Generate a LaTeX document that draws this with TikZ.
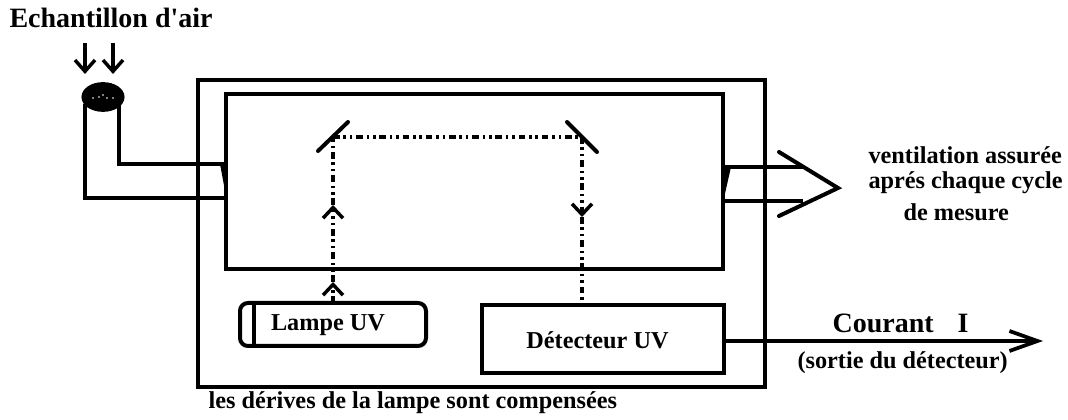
\documentclass[tikz,border=0pt]{standalone}
\usepackage{fontspec}
\newfontfamily\serif{Liberation Serif}
\usetikzlibrary{arrows.meta,shapes.geometric}

\begin{document}
\begin{tikzpicture}[x=0.75pt,y=-0.75pt, line width=2.3pt,
  txt/.style={font=\serif\bfseries\fontsize{18.2}{18.2}\selectfont, inner sep=0pt},
  txtbig/.style={font=\serif\bfseries\fontsize{21}{21}\selectfont, inner sep=0pt},
  boxe/.style={draw, rectangle, inner sep=0pt, outer sep=0pt},
  diag/.style={line width=3pt, line cap=round},
  beam/.style={line width=2.8pt, dash pattern=on 5pt off 2.8pt on 2pt off 2.8pt on 2pt off 2.8pt},
  chev/.style={-{Straight Barb[length=8pt,width=15pt,line width=2.6pt]}}]
\useasboundingbox (0,0) rectangle (1068,420);
% boites
\node[boxe, line width=3pt, minimum width=425.25pt, minimum height=230.25pt] (outer) at (481.5,234) {};
\node[boxe, minimum width=372.75pt, minimum height=131.25pt] (cell) at (474.5,181.5) {};
\node[boxe, line width=3pt, rounded corners=6pt, minimum width=139.5pt, minimum height=32.25pt] (lamp) at (333,324.5) {};
\node[boxe, minimum width=181.5pt, minimum height=51pt] (detector) at (603,339) {};
\draw (254,303) -- (254,346);
\node[txt] (lamptxt) at (328,325) {Lampe UV};
\node[txt] (dettxt) at (597.5,340) {Détecteur UV};
% entree d'air
\node[draw, ellipse, fill=black, minimum width=30pt, minimum height=20pt, inner sep=0pt, outer sep=0pt] (inlet) at (103,97) {};
\foreach \px/\py in {93/98, 99/97, 103/95, 107/98, 113/98} { \fill[white] (\px,\py) circle (0.7pt); }
\foreach \xx in {85,113} { \draw[-{Straight Barb[length=8.5pt,width=15pt,line width=2.6pt]}] (\xx,43) coordinate (top\xx) -- (\xx,74); }
\draw (85,104) -- (85,198) -- (226,198);
\draw (119,104) -- (119,164) -- (226,164);
\fill (220,164) -- (226,164) -- (226,196) -- cycle;
% sortie
\draw (723,167) -- (803,167);
\draw (723,201) -- (803,201);
\fill (723,167) -- (731,167) -- (724,198) -- cycle;
\coordinate (tip) at (838,188);
\draw[diag] (779,152) -- (tip) -- (779,216);
% faisceau
\coordinate (mirA) at (333,137);
\coordinate (mirB) at (582,137);
\draw[diag] (318,151) -- (348,122);
\draw[diag] (567,122) -- (597,152);
\draw[beam] (mirA) -- (mirB);
\draw[beam, chev] (lamp.north) -- (333,282);
\draw[beam, chev] (333,282) -- (333,205);
\draw[beam] (333,205) -- (mirA);
\draw[beam, chev] (mirB) -- (582,217);
\draw[beam] (582,217) -- (582,304);
% sortie courant
\coordinate (out) at (1043,341);
\draw[-{Straight Barb[length=21pt,width=15pt,line width=2.8pt]}] (detector.east |- out) -- (out);
% textes
\node[txtbig, anchor=west] (title) at (8,18) {Echantillon d'air};
\node[txt, anchor=west] (vent1) at (867,155) {ventilation assurée};
\node[txt, anchor=west] (vent2) at (867,183) {aprés chaque cycle};
\node[txt, anchor=west] (vent3) at (902,212) {de mesure};
\node[txtbig, anchor=west] (cur) at (831,323) {Courant\hspace{18pt}I};
\node[txt, anchor=west] (sortie) at (796,363) {(sortie du détecteur)};
\node[txt, anchor=west] (derive) at (207,403) {les dérives de la lampe sont compensées};
\end{tikzpicture}
\end{document}
